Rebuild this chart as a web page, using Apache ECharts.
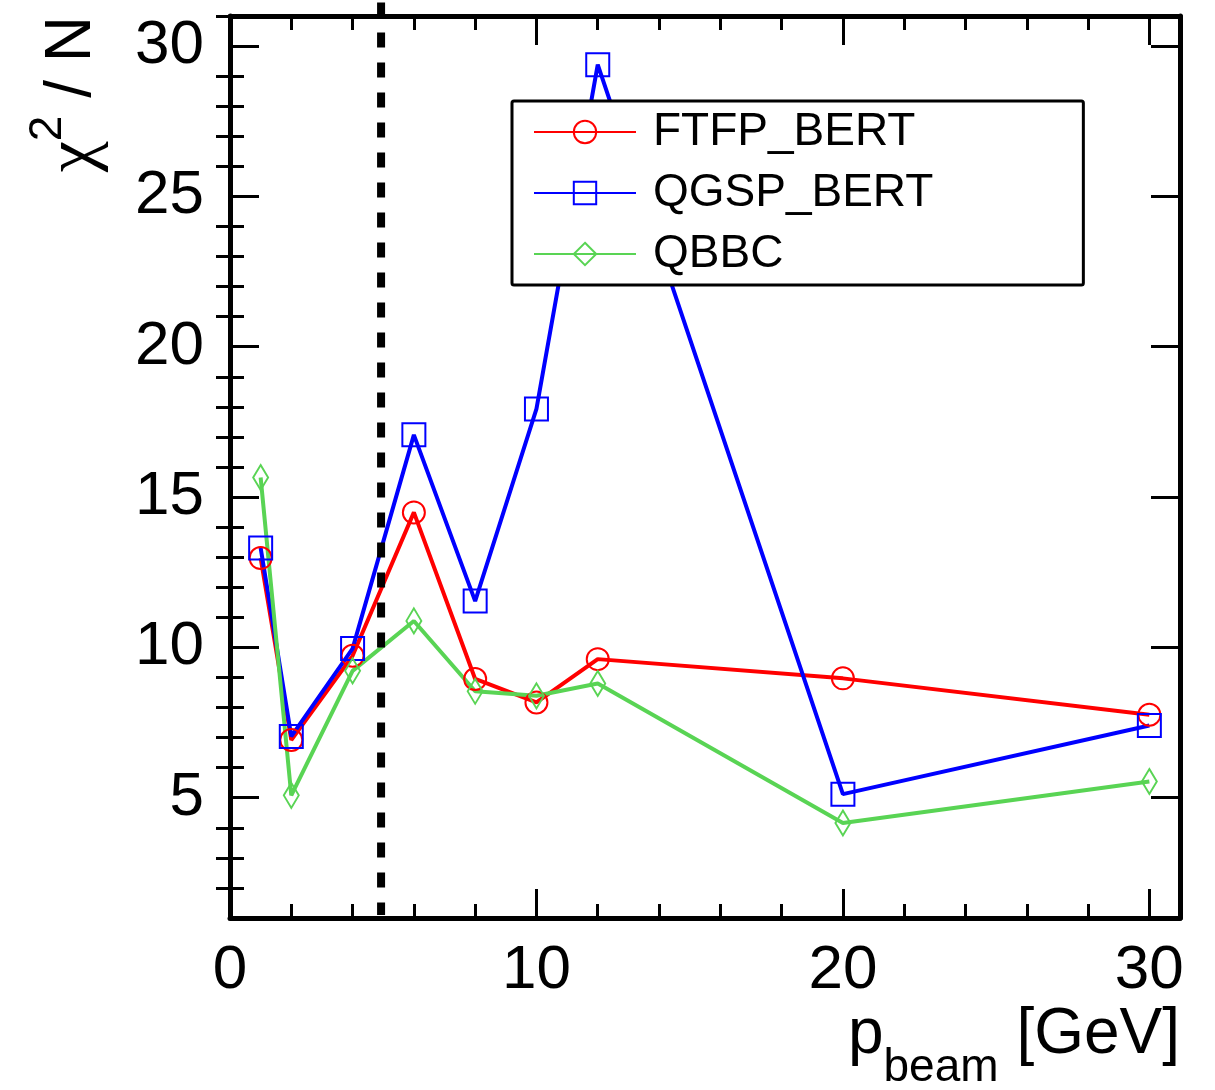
<!DOCTYPE html>
<html>
<head>
<meta charset="utf-8">
<script src="https://cdn.jsdelivr.net/npm/echarts@6/dist/echarts.min.js"></script>
<style>
html,body{margin:0;padding:0;background:#fff;}
#chart{width:1215px;height:1090px;}
</style>
</head>
<body>
<div id="chart"></div>
<script>
// ---- data ----
const pBeam = [1, 2, 4, 6, 8, 10, 12, 20, 30];
const ftfpBert = [12.97, 6.92, 9.72, 14.49, 8.95, 8.17, 9.61, 8.97, 7.76];
const qgspBert = [13.31, 7.04, 9.96, 17.07, 11.54, 17.93, 29.38, 5.12, 7.40];
const qbbc = [15.65, 5.08, 9.22, 10.88, 8.54, 8.39, 8.80, 4.16, 5.54];
const seriesNames = ['FTFP_BERT', 'QGSP_BERT', 'QBBC'];
const xTickLabels = [0, 10, 20, 30];
const yTickLabels = [5, 10, 15, 20, 25, 30];
const yMinorTicks = [2, 3, 4, 6, 7, 8, 9, 11, 12, 13, 14, 16, 17, 18, 19, 21, 22, 23, 24, 26, 27, 28, 29, 31];
const cutX = [4.93, 4.93];
const cutY = [31.45, 1.1];

const FONT = '"Liberation Sans", Arial, Helvetica, sans-serif';
const RED = '#ff0000', BLUE = '#0000ff', GREEN = '#59d454';

function pairs(xs, ys) { return xs.map((x, i) => [x, ys[i]]); }

const xBase = {
  type: 'value', min: 0, max: 31, interval: 10,
  axisLine: { show: true, onZero: false, lineStyle: { color: '#000', width: 5 } },
  axisTick: { show: true, inside: true, length: 29, lineStyle: { color: '#000', width: 3 } },
  minorTick: { show: true, splitNumber: 5, length: 14, lineStyle: { color: '#000', width: 3 } },
  splitLine: { show: false }, minorSplitLine: { show: false }
};
const yMajor = {
  type: 'value', min: 1, max: 31,
  axisLine: { show: true, onZero: false, lineStyle: { color: '#000', width: 5 } },
  axisTick: { show: true, inside: true, length: 29, customValues: yTickLabels, lineStyle: { color: '#000', width: 3 } },
  splitLine: { show: false }
};
const yMinor = {
  type: 'value', min: 1, max: 31,
  axisLine: { show: false },
  axisTick: { show: true, inside: true, length: 14, customValues: yMinorTicks, lineStyle: { color: '#000', width: 3 } },
  axisLabel: { show: false },
  splitLine: { show: false }
};

function mkSeries(name, ys, color, symbol, size) {
  return {
    name: name, type: 'line', xAxisIndex: 0, yAxisIndex: 0,
    data: pairs(pBeam, ys),
    symbol: symbol, symbolSize: size, showAllSymbol: true,
    lineStyle: { color: color, width: 4 },
    itemStyle: { color: 'rgba(255,255,255,0)', borderColor: color, borderWidth: 2 },
    color: color,
    animation: false, z: 3
  };
}

const chart = echarts.init(document.getElementById('chart'), null, { renderer: 'canvas' });
chart.setOption({
  animation: false,
  backgroundColor: '#fff',
  title: {
    text: '{m|p}{s|beam}{m| [GeV]}',
    right: 35, top: 1003, padding: 0,
    textStyle: {
      color: '#000', fontFamily: FONT, fontWeight: 'normal',
      rich: {
        m: { fontSize: 64, fontFamily: FONT, color: '#000', verticalAlign: 'top' },
        s: { fontSize: 46, fontFamily: FONT, color: '#000', verticalAlign: 'top', padding: [42, 0, 0, 0] }
      }
    }
  },
  grid: { left: 230, right: 35, top: 16, bottom: 172, containLabel: false, outerBoundsMode: 'none' },
  xAxis: [
    Object.assign({}, xBase, {
      position: 'bottom',
      axisLabel: { show: true, customValues: xTickLabels, fontSize: 62, fontFamily: FONT, color: '#000', margin: 22 }
    }),
    Object.assign({}, xBase, { position: 'top', axisLabel: { show: false } })
  ],
  yAxis: [
    Object.assign({}, yMajor, {
      position: 'left',
      axisLabel: { show: true, customValues: yTickLabels, fontSize: 62, fontFamily: FONT, color: '#000', margin: 26 },
      name: '{c|χ}{sup|2}{n| / N}',
      nameLocation: 'end', nameGap: 0, nameRotate: 90,
      nameTextStyle: {
        align: 'right', verticalAlign: 'bottom', padding: [0, 0, 120, 0],
        color: '#000', fontFamily: FONT,
        rich: {
          c: { fontSize: 70, fontFamily: '"Liberation Serif", serif', color: '#000', verticalAlign: 'top', padding: [15, 0, 0, 0] },
          sup: { fontSize: 46, fontFamily: FONT, color: '#000', verticalAlign: 'top' },
          n: { fontSize: 64, fontFamily: FONT, color: '#000', verticalAlign: 'top', padding: [15, 0, 0, 0] }
        }
      }
    }),
    Object.assign({}, yMinor, { position: 'left' }),
    Object.assign({}, yMajor, { position: 'right', axisLabel: { show: false } }),
    Object.assign({}, yMinor, { position: 'right' })
  ],
  legend: {
    data: seriesNames,
    orient: 'vertical',
    left: 512, top: 101,
    padding: [8, 150, 8, 21],
    backgroundColor: '#fff',
    borderColor: '#000', borderWidth: 3, borderRadius: 2,
    itemWidth: 102, itemHeight: 28, itemGap: 15,
    textStyle: { fontSize: 46, fontFamily: FONT, color: '#000', lineHeight: 46, padding: [0, 0, 0, 12] },
    selectedMode: false
  },
  series: [
    mkSeries(seriesNames[0], ftfpBert, RED, 'circle', 22),
    mkSeries(seriesNames[1], qgspBert, BLUE, 'rect', 23),
    mkSeries(seriesNames[2], qbbc, GREEN, 'diamond', [15, 25]),
    {
      name: 'cut', type: 'line', xAxisIndex: 0, yAxisIndex: 0,
      data: pairs(cutX, cutY), clip: false, symbol: 'none', silent: true,
      lineStyle: { color: '#000', width: 8, type: [15, 15] },
      z: 4, animation: false
    }
  ]
});
</script>
</body>
</html>
